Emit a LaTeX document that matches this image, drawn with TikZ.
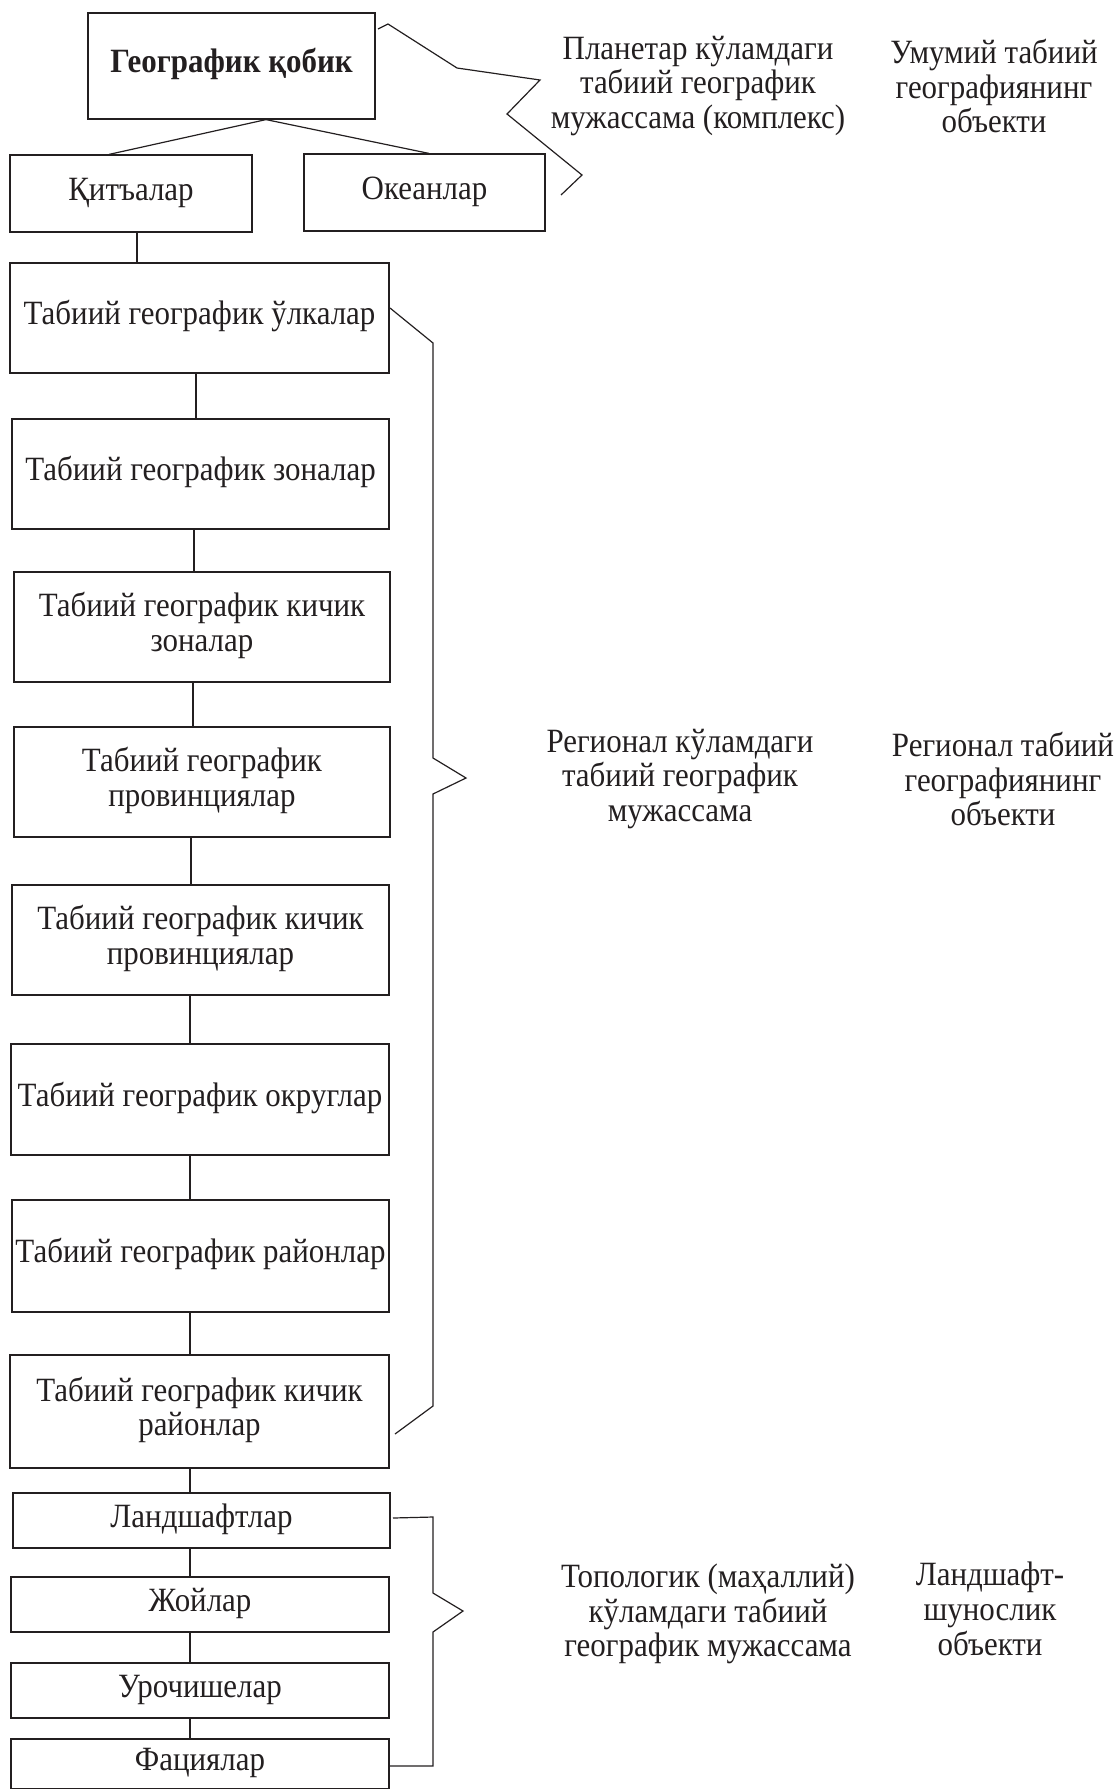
\documentclass[tikz,border=0pt]{standalone}
\usepackage{fontspec}
\setmainfont{Liberation Serif}[FakeStretch=0.91]
\definecolor{ink}{HTML}{231F20}
\newcommand{\bigfnt}{\fontsize{34}{34.8}\selectfont}
\newcommand{\zt}[1]{\makebox[0pt]{\begin{tabular}{@{}c@{}}#1\end{tabular}}}
\begin{document}
\begin{tikzpicture}[x=1pt,y=-1pt,
  box/.style={draw=ink, line width=1.2pt, inner sep=0pt, font=\bigfnt, text=ink},
  lbl/.style={inner sep=0pt, align=center, font=\bigfnt, text=ink},
  link/.style={draw=ink, line width=1.2pt},
  brace/.style={draw=ink, line width=1.2pt, line join=miter}]
\useasboundingbox (0,0) rectangle (1118,1789);
\clip (0,0) rectangle (1118,1789);

% boxes
\node[box, minimum width=287pt, minimum height=106pt] (geo) at (231.5,66) {\zt{\textbf{Географик қобик}}};
\node[box, minimum width=242pt, minimum height=77pt] (kit) at (131,193.5) {\zt{Қитъалар}};
\node[box, minimum width=241pt, minimum height=77pt] (okean) at (424.5,192.5) {\zt{Океанлар}};
\node[box, minimum width=379pt, minimum height=110pt] (ulka) at (199.5,318) {\zt{Табиий географик ўлкалар}};
\node[box, minimum width=377pt, minimum height=110pt] (zona) at (200.5,474) {\zt{Табиий географик зоналар}};
\node[box, minimum width=376pt, minimum height=110pt] (kzona) at (202,627) {\zt{Табиий географик кичик\\зоналар}};
\node[box, minimum width=376pt, minimum height=110pt] (prov) at (202,782) {\zt{Табиий географик\\провинциялар}};
\node[box, minimum width=377pt, minimum height=110pt] (kprov) at (200.5,940) {\zt{Табиий географик кичик\\провинциялар}};
\node[box, minimum width=378pt, minimum height=111pt] (okrug) at (200,1099.5) {\zt{Табиий географик округлар}};
\node[box, minimum width=377pt, minimum height=112pt] (rayon) at (200.5,1256) {\zt{Табиий географик районлар}};
\node[box, minimum width=379pt, minimum height=113pt] (krayon) at (199.5,1411.5) {\zt{Табиий географик кичик\\районлар}};
\node[box, minimum width=377pt, minimum height=55pt] (landsh) at (201.5,1520.5) {\zt{Ландшафтлар}};
\node[box, minimum width=378pt, minimum height=55pt] (joy) at (200,1604.5) {\zt{Жойлар}};
\node[box, minimum width=378pt, minimum height=55pt] (uroch) at (200,1690.5) {\zt{Урочишелар}};
\node[box, minimum width=378pt, minimum height=50pt] (fac) at (200,1764) {\zt{Фациялар}};
\draw[ink, line width=1.2pt] (fac.south west) -- ++(0,10) (fac.south east) -- ++(0,10);

% connectors
\draw[link] ([xshift=34.5pt]geo.south) -- ([xshift=-22pt]kit.north);
\draw[link] ([xshift=34.5pt]geo.south) -- ([xshift=4.5pt]okean.north);
\draw[link] ([xshift=6pt]kit.south) -- ([xshift=-62.5pt]ulka.north);
\draw[link] ([xshift=-3.5pt]ulka.south) -- ([xshift=-4.5pt]zona.north);
\draw[link] ([xshift=-6.5pt]zona.south) -- ([xshift=-8pt]kzona.north);
\draw[link] ([xshift=-9pt]kzona.south) -- ([xshift=-9pt]prov.north);
\draw[link] ([xshift=-11pt]prov.south) -- ([xshift=-9.5pt]kprov.north);
\draw[link] ([xshift=-10.5pt]kprov.south) -- ([xshift=-10pt]okrug.north);
\draw[link] ([xshift=-10pt]okrug.south) -- ([xshift=-10.5pt]rayon.north);
\draw[link] ([xshift=-10.5pt]rayon.south) -- ([xshift=-9.5pt]krayon.north);
\draw[link] ([xshift=-9.5pt]krayon.south) -- ([xshift=-11.5pt]landsh.north);
\draw[link] ([xshift=-11.5pt]landsh.south) -- ([xshift=-10pt]joy.north);
\draw[link] ([xshift=-10pt]joy.south) -- ([xshift=-10pt]uroch.north);
\draw[link] ([xshift=-10pt]uroch.south) -- ([xshift=-10pt]fac.north);

% brackets
\draw[brace] (378,29) -- (388,24) -- (457,68) -- (540,80) -- (507,114) -- (582,175) -- (561,195);
\draw[brace] (390,308) -- (433,343) -- (433,758) -- (466,778) -- (433,794) -- (433,1406) -- (395,1434);
\draw[brace] (393,1518) -- (433,1517) -- (433,1593) -- (463,1611) -- (433,1632) -- (433,1766) -- (390,1766);

% labels
\node[lbl] (plan) at (698,86) {Планетар кўламдаги\\табиий географик\\мужассама (комплекс)};
\node[lbl] (umum) at (994,86) {Умумий табиий\\географиянинг\\объекти};
\node[lbl] (reg) at (680,779) {Регионал кўламдаги\\табиий географик\\мужассама};
\node[lbl] (regt) at (1003,779) {Регионал табиий\\географиянинг\\объекти};
\node[lbl] (topo) at (708,1614) {Топологик (маҳаллий)\\кўламдаги табиий\\географик мужассама};
\node[lbl] (landt) at (990,1609) {Ландшафт-\\шунослик\\объекти};
\end{tikzpicture}
\end{document}
